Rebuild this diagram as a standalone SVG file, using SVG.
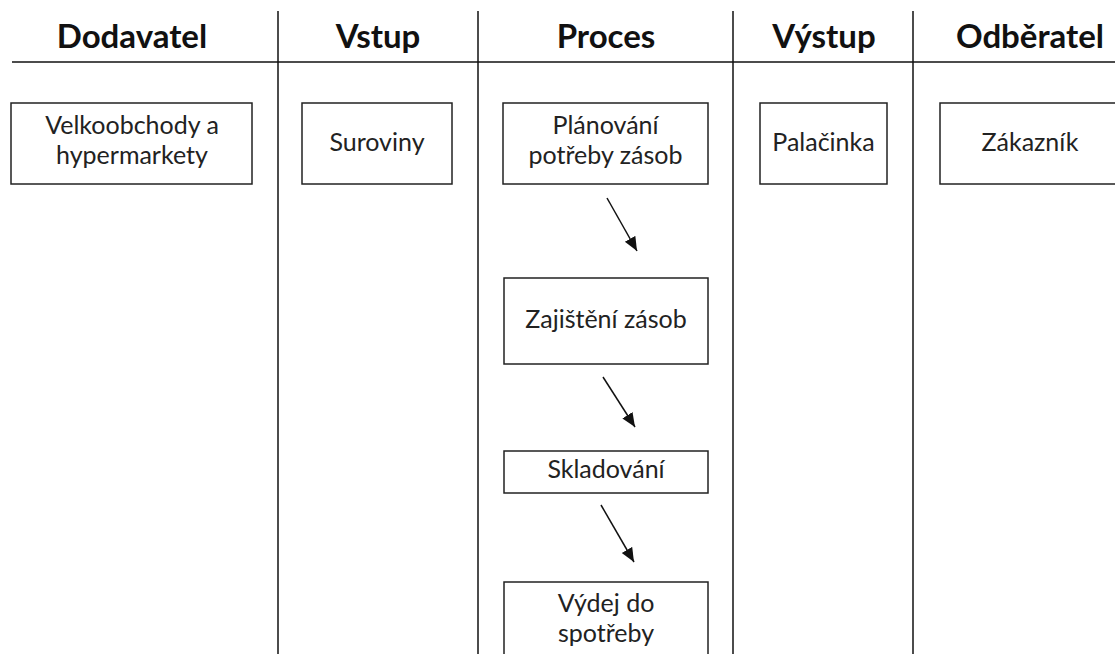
<svg xmlns="http://www.w3.org/2000/svg" width="1115" height="654" viewBox="0 0 1115 654">
  <style>
    .grid { stroke: #111; stroke-width: 1.5; fill: none; }
    .box { fill: #fff; stroke: #222; stroke-width: 1.5; }
    .head { font-family: Lato, "Open Sans", "Liberation Sans", sans-serif; font-weight: bold; font-size: 33px; fill: #111; text-anchor: middle; }
    .lbl { font-family: Lato, "Open Sans", "Liberation Sans", sans-serif; font-size: 25px; fill: #222; text-anchor: middle; }
    .arrow { stroke: #111; stroke-width: 1.5; fill: none; marker-end: url(#tip); }
  </style>
  <defs>
    <marker id="tip" markerUnits="userSpaceOnUse" markerWidth="16" markerHeight="14" refX="14" refY="6" orient="auto">
      <path d="M0,0 L14,6 L0,12 Z" fill="#111"/>
    </marker>
  </defs>
  <rect width="1115" height="654" fill="#fff"/>

  <!-- table grid -->
  <g id="grid">
    <line class="grid" x1="12" y1="62" x2="1115" y2="62"/>
    <line class="grid" x1="278" y1="11" x2="278" y2="654"/>
    <line class="grid" x1="478" y1="11" x2="478" y2="654"/>
    <line class="grid" x1="733" y1="11" x2="733" y2="654"/>
    <line class="grid" x1="913" y1="11" x2="913" y2="654"/>
  </g>

  <!-- column headings -->
  <g id="headings">
    <text class="head" x="132" y="48">Dodavatel</text>
    <text class="head" x="378" y="48">Vstup</text>
    <text class="head" x="606" y="48">Proces</text>
    <text class="head" x="824" y="48">Výstup</text>
    <text class="head" x="1030" y="48">Odběratel</text>
  </g>

  <g id="dodavatel">
    <rect class="box" x="11" y="103" width="241" height="81"/>
    <text class="lbl" x="132" y="134">Velkoobchody a</text>
    <text class="lbl" x="132" y="164">hypermarkety</text>
  </g>

  <g id="vstup">
    <rect class="box" x="302" y="103" width="150" height="81"/>
    <text class="lbl" x="377" y="151">Suroviny</text>
  </g>

  <g id="planovani">
    <rect class="box" x="503" y="103" width="205" height="81"/>
    <text class="lbl" x="605.5" y="134">Plánování</text>
    <text class="lbl" x="605.5" y="164">potřeby zásob</text>
  </g>

  <g id="zajisteni">
    <rect class="box" x="504" y="278" width="204" height="86"/>
    <text class="lbl" x="606" y="328">Zajištění zásob</text>
  </g>

  <g id="skladovani">
    <rect class="box" x="504" y="451" width="204" height="42"/>
    <text class="lbl" x="606" y="478">Skladování</text>
  </g>

  <g id="vydej">
    <rect class="box" x="504" y="582" width="204" height="90"/>
    <text class="lbl" x="606" y="612">Výdej do</text>
    <text class="lbl" x="606" y="642">spotřeby</text>
  </g>

  <g id="vystup">
    <rect class="box" x="760" y="103" width="127" height="81"/>
    <text class="lbl" x="823.5" y="151">Palačinka</text>
  </g>

  <g id="odberatel">
    <rect class="box" x="940" y="103" width="180" height="81"/>
    <text class="lbl" x="1030" y="151">Zákazník</text>
  </g>

  <!-- process flow connectors -->
  <g id="connectors">
    <line class="arrow" x1="607" y1="198" x2="637" y2="251"/>
    <line class="arrow" x1="603" y1="377" x2="635" y2="427"/>
    <line class="arrow" x1="601" y1="505" x2="634" y2="562"/>
  </g>
</svg>
